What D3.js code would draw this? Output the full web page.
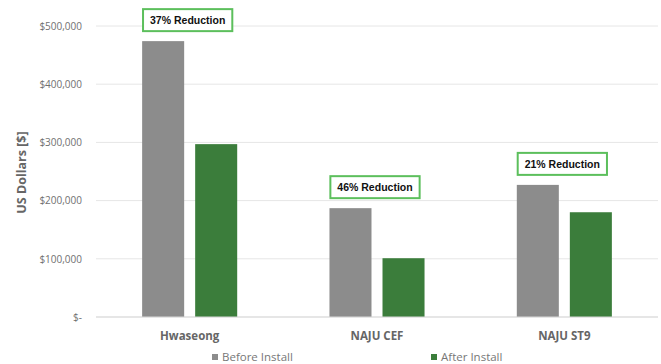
<!DOCTYPE html>
<html><head><meta charset="utf-8">
<script src="https://cdn.jsdelivr.net/npm/d3@7"></script>
<style>body{margin:0;background:#fff;} svg{display:block;font-family:"Open Sans",Arial,sans-serif;}</style>
</head><body><svg id="c" width="661" height="364"></svg>
<script>
const categories = ["Hwaseong", "NAJU CEF", "NAJU ST9"];
const seriesNames = ["Before Install", "After Install"];
const beforeValues = [474000, 187000, 227000];
const afterValues = [297000, 101000, 180000];
const reductionLabels = ["37% Reduction", "46% Reduction", "21% Reduction"];
const yTicks = [0, 100000, 200000, 300000, 400000, 500000];
const colors = ["#8c8c8c", "#3b7d3b"];

const svg = d3.select("#c");
const m = {l: 96, r: 3, t: 26, b: 47};
const W = 661, H = 364;
const x = d3.scaleBand().domain(categories).range([m.l, W - m.r]);
const x1 = d3.scaleBand().domain(seriesNames).range([0, x.bandwidth()]).paddingInner(0.2075).paddingOuter(0.87);
const y = d3.scaleLinear().domain([0, 500000]).range([H - m.b, m.t]);

// gridlines
svg.append("g").selectAll("line").data(yTicks).join("line")
  .attr("x1", m.l).attr("x2", W - m.r)
  .attr("y1", d => y(d)).attr("y2", d => y(d))
  .attr("stroke", "#e6e6e6").attr("stroke-width", 1);

// y axis labels
const yAxis = d3.axisLeft(y).tickValues(yTicks).tickSize(0).tickPadding(0)
  .tickFormat(d => d === 0 ? "$-" : "$" + d3.format(",")(d));
const ga = svg.append("g").attr("transform", `translate(${m.l - 14},0)`).call(yAxis);
ga.select(".domain").remove();
ga.selectAll("text").attr("fill", "#707070").style("font-size", "10px").style("font-family", "'Open Sans',Arial,sans-serif");

// y title
svg.append("text").attr("transform", `translate(26,${(y(0)+y(500000))/2 + 1}) rotate(-90)`)
  .attr("text-anchor", "middle").attr("fill", "#666").style("font-size", "12.5px").style("font-weight", "bold")
  .text("US Dollars [$]");

// bars
const data = categories.map((c, i) => ({c, vals: [beforeValues[i], afterValues[i]]}));
const groups = svg.append("g").selectAll("g").data(data).join("g")
  .attr("transform", d => `translate(${x(d.c)},0)`);
groups.selectAll("rect").data(d => d.vals.map((v, j) => ({s: seriesNames[j], v, j}))).join("rect")
  .attr("x", d => x1(d.s)).attr("width", x1.bandwidth())
  .attr("y", d => y(d.v)).attr("height", d => y(0) - y(d.v))
  .attr("fill", d => colors[d.j]);

// baseline
svg.append("line").attr("x1", m.l).attr("x2", W - m.r).attr("y1", y(0)).attr("y2", y(0)).attr("stroke", "#d9d9d9");

// x axis labels
const xAxis = d3.axisBottom(x).tickSize(0).tickPadding(15);
const gx = svg.append("g").attr("transform", `translate(0,${y(0)})`).call(xAxis);
gx.select(".domain").remove();
gx.selectAll("text").attr("fill", "#666").style("font-size", "11.5px").style("font-weight", "bold").style("font-family", "'Open Sans',Arial,sans-serif");

// annotations
const ann = svg.append("g").selectAll("g").data(data).join("g");
ann.each(function(d, i) {
  const g = d3.select(this);
  const cx = x(d.c) + x.bandwidth() / 2 - 2;
  const by = y(d.vals[0]) - 32;
  const t = g.append("text").attr("x", cx).attr("y", by + 15).attr("text-anchor", "middle")
    .attr("fill", "#111").style("font-size", "10.5px").style("font-weight", "bold")
    .style("font-family", "'Liberation Sans',Arial,sans-serif").text(reductionLabels[i]);
  const w = t.node().getComputedTextLength() + 14;
  g.insert("rect", "text").attr("x", cx - w / 2).attr("y", by).attr("width", w).attr("height", 22)
    .attr("fill", "#fff").attr("stroke", "#5cbf5c").attr("stroke-width", 2);
});

// legend
const leg = svg.append("g").selectAll("g").data(seriesNames).join("g")
  .attr("transform", (d, i) => `translate(${i === 0 ? 212 : 431},354)`);
leg.append("rect").attr("width", 6).attr("height", 6).attr("y", 0).attr("fill", (d, i) => colors[i]);
leg.append("text").attr("x", 10).attr("y", 7).attr("fill", "#777").style("font-size", "11.5px").text(d => d);
</script></body></html>
